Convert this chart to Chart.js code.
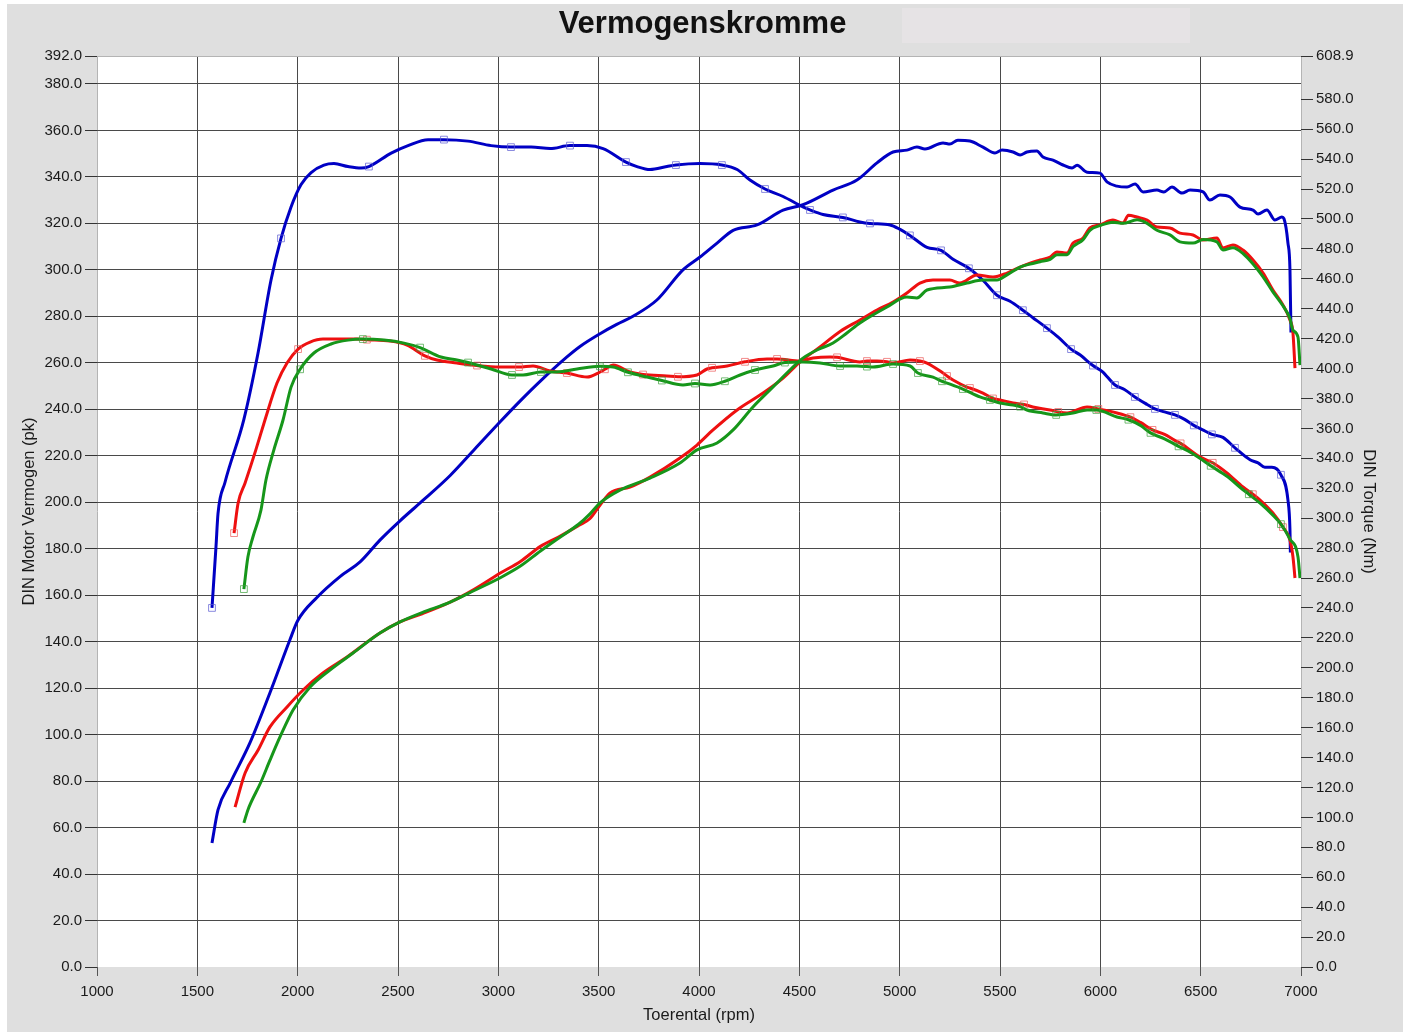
<!DOCTYPE html>
<html>
<head>
<meta charset="utf-8">
<script src="https://cdn.jsdelivr.net/npm/chart.js@4.4.0/dist/chart.umd.min.js"></script>
<style>
  html, body { margin: 0; padding: 0; background: #fff; }
  #wrap { position: relative; width: 1405px; height: 1032px; }
  #bg { position: absolute; left: 7px; top: 4px; width: 1396px; height: 1028px; background: #dfdfdf; }
  #blank { position: absolute; left: 902px; top: 8px; width: 288px; height: 35px; background: #e6e3e5; }
  canvas { position: absolute; left: 0; top: 0; }
</style>
</head>
<body>
<div id="wrap">
  <div id="bg"></div>
  <div id="blank"></div>
  <canvas id="dyno" width="1405" height="1032"></canvas>
</div>
<script>
// rpm ticks
const rpmTicks = [1000, 1500, 2000, 2500, 3000, 3500, 4000, 4500, 5000, 5500, 6000, 6500, 7000]
const pkTicks = [0, 20, 40, 60, 80, 100, 120, 140, 160, 180, 200, 220, 240, 260, 280, 300, 320, 340, 360, 380, 392]
const nmTicks = [0, 20, 40, 60, 80, 100, 120, 140, 160, 180, 200, 220, 240, 260, 280, 300, 320, 340, 360, 380, 400, 420, 440, 460, 480, 500, 520, 540, 560, 580, 608.9]

// blue run: power (pk) and torque (Nm), [rpm, value]
const bluePower = [
  [1573, 53.4], [1603, 67.6], [1663, 79], [1762, 96.4], [1862, 118], [1961, 140.7], [2000, 149], [2096, 159],
  [2211, 168], [2311, 174.3], [2410, 183.7], [2510, 192], [2634, 201.5], [2760, 211.5], [2884, 223], [3008, 234.5],
  [3108, 243.5], [3208, 252], [3342, 262.5], [3407, 267], [3507, 272.5], [3590, 276.5], [3671, 280], [3790, 287],
  [3920, 300], [4005, 305.5], [4090, 311.5], [4170, 317], [4289, 319.3], [4419, 325.7], [4518, 328], [4668, 334.3],
  [4787, 338.6], [4887, 346], [4967, 350.7], [5036, 351.5], [5086, 352.8], [5126, 352], [5216, 354.6], [5250, 354.1],
  [5290, 355.8], [5350, 355.4], [5415, 352.8], [5475, 350.3], [5510, 351.5], [5565, 350.7], [5600, 349.4], [5634, 350.7],
  [5684, 351.1], [5714, 348.5], [5764, 347.2], [5814, 345.1], [5859, 343.8], [5884, 345], [5934, 342], [5998, 341.6],
  [6033, 337.8], [6083, 336], [6133, 335.6], [6173, 336.9], [6213, 333.5], [6282, 334.3], [6317, 333.5], [6357, 335.6],
  [6407, 333], [6447, 334.3], [6512, 333.5], [6546, 330], [6596, 332.2], [6646, 331.3], [6696, 327], [6761, 325.7],
  [6786, 324], [6830, 325.7], [6870, 321.4], [6905, 322.7], [6915, 322], [6935, 311.5], [6945, 300], [6950, 273]
]
const blueTorque = [
  [1573, 240], [1593, 281], [1603, 303], [1638, 324], [1732, 366], [1802, 410], [1867, 459], [1917, 487],
  [1967, 508], [2017, 523], [2067, 531], [2131, 536], [2181, 537], [2251, 535], [2316, 534], [2355, 535],
  [2466, 544], [2550, 549], [2650, 553], [2729, 553], [2849, 552], [2964, 549], [3063, 548], [3164, 548],
  [3258, 547], [3357, 549], [3442, 549], [3522, 547], [3636, 538], [3691, 535], [3756, 533], [3840, 535],
  [3885, 536], [4005, 537], [4114, 536], [4190, 533], [4254, 526], [4329, 520], [4419, 515], [4518, 508],
  [4553, 506], [4618, 503], [4717, 501], [4802, 498], [4852, 497], [4952, 496], [5002, 493], [5051, 489],
  [5136, 481], [5206, 479], [5266, 473], [5345, 467], [5415, 459], [5485, 449], [5550, 445], [5614, 439],
  [5664, 434], [5734, 427], [5790, 421], [5854, 413], [5900, 409], [5963, 402], [6010, 398], [6073, 389],
  [6120, 386], [6172, 381], [6233, 376], [6272, 373], [6320, 371], [6372, 369], [6420, 366], [6466, 362],
  [6510, 359], [6556, 356], [6611, 354], [6671, 347], [6746, 339], [6786, 337], [6820, 334], [6855, 334],
  [6900, 329], [6935, 312], [6945, 292], [6947, 277]
]
const blueMarks = [1573, 1917, 2355, 2729, 3063, 3357, 3636, 3885, 4114, 4329, 4553, 4717, 4852, 5051, 5206,
  5345, 5485, 5614, 5734, 5854, 5963, 6073, 6172, 6272, 6372, 6466, 6556, 6671, 6900]

// red run
const redPower = [
  [1688, 68.8], [1738, 83.5], [1803, 93.4], [1862, 103.3], [1947, 111.9], [2027, 119.2], [2126, 126.5], [2246, 133.4],
  [2410, 143.7], [2510, 148.5], [2620, 152], [2760, 157], [2880, 162.5], [3010, 169.5], [3110, 174.5], [3210, 181],
  [3300, 185], [3400, 190], [3457, 193], [3507, 198.8], [3557, 204], [3656, 206.5], [3756, 210.8], [3905, 219],
  [3990, 224.6], [4070, 231.1], [4190, 239.7], [4304, 246.1], [4419, 253.4], [4503, 260.3], [4603, 266.8], [4703, 273.5],
  [4802, 278.4], [4887, 282.7], [4967, 286.1], [5036, 290], [5101, 294.3], [5166, 295.6], [5250, 295.6], [5300, 294.3],
  [5385, 297.8], [5465, 296.9], [5535, 298.6], [5600, 301.2], [5650, 302.9], [5700, 304.2], [5750, 305.5], [5784, 307.7],
  [5834, 307.2], [5864, 311.5], [5914, 313.7], [5948, 318], [5998, 319.3], [6063, 321.4], [6113, 320.1], [6140, 323.5],
  [6183, 322.7], [6233, 321.4], [6282, 318.4], [6347, 318], [6397, 315.8], [6462, 315], [6512, 312.8], [6581, 313.7],
  [6611, 309.4], [6661, 310.7], [6711, 308.5], [6761, 304.2], [6811, 298.6], [6860, 291.3], [6910, 284.9], [6945, 278.4],
  [6960, 272.8], [6970, 257.7]
]
const redTorque = [
  [1683, 290], [1703, 310], [1738, 323.5], [1790, 345], [1837, 365.6], [1897, 390.3], [1947, 403.7], [2002, 413],
  [2062, 417.7], [2126, 419.7], [2211, 419.7], [2296, 419.7], [2345, 419.3], [2460, 418.4], [2545, 415.7], [2634, 408.5],
  [2694, 405.7], [2794, 403.7], [2894, 402], [3008, 401], [3103, 401], [3173, 401.7], [3258, 398.3], [3342, 397],
  [3442, 394.3], [3507, 397.7], [3531, 399.5], [3572, 402.3], [3656, 397.7], [3721, 396], [3840, 395], [3895, 394.5],
  [3990, 395.7], [4040, 399.7], [4065, 400.5], [4140, 401.7], [4229, 404.5], [4339, 406.4], [4389, 406.4], [4503, 405],
  [4568, 407], [4653, 407.7], [4688, 407.5], [4802, 404.4], [4837, 405], [4887, 405], [4937, 404.5], [4967, 403.7],
  [5052, 405.7], [5101, 405], [5136, 403.7], [5216, 397], [5236, 395], [5266, 392.3], [5335, 387.6], [5350, 387],
  [5415, 383.6], [5465, 380], [5500, 379], [5565, 377], [5620, 376], [5664, 374.3], [5749, 372.3], [5790, 371],
  [5834, 370.3], [5934, 374.3], [5990, 373], [6083, 370.3], [6150, 367.5], [6200, 364], [6260, 359], [6320, 356],
  [6371, 352], [6400, 350], [6496, 341], [6560, 337], [6631, 330.2], [6711, 320.8], [6760, 316], [6796, 312.1],
  [6860, 303.4], [6910, 294], [6945, 285.4], [6960, 274], [6970, 260]
]
const redMarks = [1683, 2002, 2345, 2634, 2894, 3103, 3342, 3531, 3721, 3895, 4065, 4229, 4389, 4688, 4837, 4937,
  5101, 5236, 5350, 5465, 5620, 5790, 5990, 6150, 6260, 6400, 6560, 6760, 6910]

// green run
const greenPower = [
  [1732, 62], [1752, 67.6], [1817, 79.6], [1862, 89], [1912, 99], [1977, 110.6], [2062, 120.5], [2161, 127.8],
  [2276, 135.1], [2410, 143.7], [2510, 148.5], [2620, 152.5], [2760, 157], [2880, 162], [3010, 167.5], [3110, 172.5],
  [3210, 179], [3300, 184.5], [3400, 190.5], [3457, 195], [3507, 199.7], [3606, 205.2], [3756, 210.4], [3905, 216.9],
  [3990, 222.5], [4090, 225.5], [4170, 231.1], [4269, 241], [4369, 249.6], [4453, 256.9], [4518, 262], [4588, 265.5],
  [4668, 268.5], [4737, 272.8], [4802, 277.1], [4937, 284], [5036, 288.3], [5086, 287.9], [5136, 291.3], [5250, 292.6],
  [5335, 294.3], [5415, 295.6], [5485, 295.6], [5535, 297.8], [5600, 301.2], [5650, 302.5], [5700, 303.5], [5750, 304.5],
  [5784, 306.5], [5834, 306.5], [5864, 310], [5914, 313], [5948, 317], [5998, 319], [6063, 320.5], [6113, 320],
  [6183, 321.5], [6233, 320], [6282, 317], [6347, 315], [6397, 312], [6462, 311.5], [6512, 313], [6581, 312],
  [6611, 308.5], [6661, 309.5], [6711, 307], [6761, 302.5], [6811, 297], [6860, 290.5], [6910, 284.5], [6945, 279],
  [6960, 274], [6985, 271], [6995, 259]
]
const greenTorque = [
  [1732, 252.6], [1752, 274], [1777, 287.4], [1817, 305.4], [1842, 325.5], [1880, 345], [1927, 365.6], [1967, 387.6],
  [2012, 399.5], [2081, 410.4], [2166, 416.4], [2251, 419], [2325, 419.7], [2430, 419], [2530, 417], [2610, 414],
  [2714, 407.7], [2794, 405.7], [2849, 404], [2964, 399.7], [3068, 395.7], [3123, 395.7], [3212, 397.7], [3292, 397.7],
  [3392, 399.7], [3506, 401.5], [3572, 401], [3646, 397.5], [3741, 394.3], [3815, 392], [3920, 389], [3980, 390],
  [4055, 389], [4129, 391.5], [4205, 395.7], [4279, 399], [4369, 401.7], [4428, 404], [4518, 404.4], [4603, 403.7],
  [4703, 401.7], [4787, 401.7], [4837, 401.3], [4867, 401], [4967, 403], [5052, 401.7], [5091, 397], [5166, 394.3],
  [5211, 391.5], [5236, 390.3], [5315, 386.3], [5400, 381], [5450, 379], [5500, 377], [5565, 375.6], [5600, 374.5],
  [5634, 372.3], [5714, 370.3], [5780, 369], [5864, 370.3], [5934, 372.3], [5980, 372.3], [6083, 367.6], [6140, 365.8],
  [6200, 362], [6250, 357], [6320, 353], [6390, 348], [6450, 344], [6496, 340], [6550, 335], [6631, 328],
  [6711, 319], [6740, 316], [6796, 310], [6860, 302], [6900, 296], [6945, 286], [6985, 274], [6995, 260]
]
const greenMarks = [1732, 2012, 2325, 2610, 2849, 3068, 3212, 3506, 3646, 3815, 3980, 4129, 4279, 4428, 4703, 4837,
  4967, 5091, 5211, 5315, 5450, 5600, 5780, 5980, 6140, 6250, 6390, 6550, 6740, 6900]

const BLUE = '#0000c4'
const RED = '#ee1010'
const GREEN = '#16961a'
const GRID = '#4a4a4a'
const EDGE = '#b4b4b4'

function toXY(pairs) {
  return pairs.map(p => ({ x: p[0], y: p[1] }))
}

function curve(label, pairs, color, axis, marks, markColor) {
  return {
    label: label,
    data: toXY(pairs),
    yAxisID: axis,
    borderColor: color,
    borderWidth: 3,
    cubicInterpolationMode: 'monotone',
    pointStyle: 'rect',
    pointRadius: ctx => (marks && ctx.raw && marks.includes(ctx.raw.x)) ? 4.8 : 0,
    pointBorderWidth: 1,
    pointBorderColor: markColor || color,
    pointBackgroundColor: 'rgba(0,0,0,0)',
    pointHoverRadius: 0,
  }
}

const whiteArea = {
  id: 'whiteArea',
  beforeDraw(chart) {
    const { ctx, chartArea } = chart
    ctx.save()
    ctx.fillStyle = '#ffffff'
    ctx.fillRect(chartArea.left, chartArea.top, chartArea.right - chartArea.left, chartArea.bottom - chartArea.top)
    ctx.restore()
  }
}

const tickFont = { family: 'Liberation Sans, Arial, sans-serif', size: 15 }
const titleFont = { family: 'Liberation Sans, Arial, sans-serif', size: 16.5 }

const ctx = document.querySelector('#dyno').getContext('2d')
const myChart = new Chart(ctx, {
  type: 'line',
  data: {
    datasets: [
      curve('Vermogen 3', greenPower, GREEN, 'y'),
      curve('Koppel 3', greenTorque, GREEN, 'y2', greenMarks, 'rgba(60,160,60,0.7)'),
      curve('Vermogen 2', redPower, RED, 'y'),
      curve('Koppel 2', redTorque, RED, 'y2', redMarks, 'rgba(235,90,90,0.7)'),
      curve('Vermogen 1', bluePower, BLUE, 'y'),
      curve('Koppel 1', blueTorque, BLUE, 'y2', blueMarks, 'rgba(90,90,210,0.7)'),
    ]
  },
  options: {
    responsive: false,
    animation: false,
    layout: { padding: 0 },
    plugins: {
      legend: { display: false },
      tooltip: { enabled: false },
      title: {
        display: true,
        text: 'Vermogenskromme',
        color: '#111',
        font: { family: 'Liberation Sans, Arial, sans-serif', size: 31, weight: 'bold' },
        padding: { top: 6, bottom: 12.8 }
      }
    },
    scales: {
      x: {
        type: 'linear',
        min: 1000,
        max: 7000,
        afterBuildTicks: s => { s.ticks = rpmTicks.map(v => ({ value: v })) },
        afterFit: s => { s.height = 65 },
        ticks: { font: tickFont, color: '#1a1a1a', padding: 7, maxRotation: 0, callback: v => String(v) },
        grid: {
          color: c => (c.tick.value === 1000 || c.tick.value === 7000) ? EDGE : GRID,
          tickColor: '#555',
          tickLength: 9,
          lineWidth: 1
        },
        border: { display: false },
        title: { display: true, text: 'Toerental (rpm)', font: titleFont, color: '#1a1a1a', padding: { top: 0, bottom: 7 } }
      },
      y: {
        position: 'left',
        min: 0,
        max: 392,
        afterBuildTicks: s => { s.ticks = pkTicks.map(v => ({ value: v })) },
        afterFit: s => { s.width = 97 },
        ticks: { font: tickFont, color: '#1a1a1a', padding: 3, callback: v => v.toFixed(1) },
        grid: {
          color: c => c.tick.value === 392 ? EDGE : (c.tick.value === 0 ? 'rgba(0,0,0,0)' : GRID),
          tickColor: '#333',
          tickLength: 12,
          lineWidth: 1
        },
        border: { display: false },
        title: { display: true, text: 'DIN Motor Vermogen (pk)', font: titleFont, color: '#1a1a1a', padding: { top: 20, bottom: 0 } }
      },
      y2: {
        position: 'right',
        min: 0,
        max: 608.9,
        afterBuildTicks: s => { s.ticks = nmTicks.map(v => ({ value: v })) },
        afterFit: s => { s.width = 104 },
        ticks: { font: tickFont, color: '#1a1a1a', padding: 3, callback: v => v.toFixed(1) },
        grid: { drawOnChartArea: false, tickColor: '#333', tickLength: 12 },
        border: { display: false },
        title: { display: true, text: 'DIN Torque (Nm)', font: titleFont, color: '#1a1a1a', padding: { top: 27, bottom: 0 } }
      }
    }
  },
  plugins: [whiteArea]
})
</script>
</body>
</html>
